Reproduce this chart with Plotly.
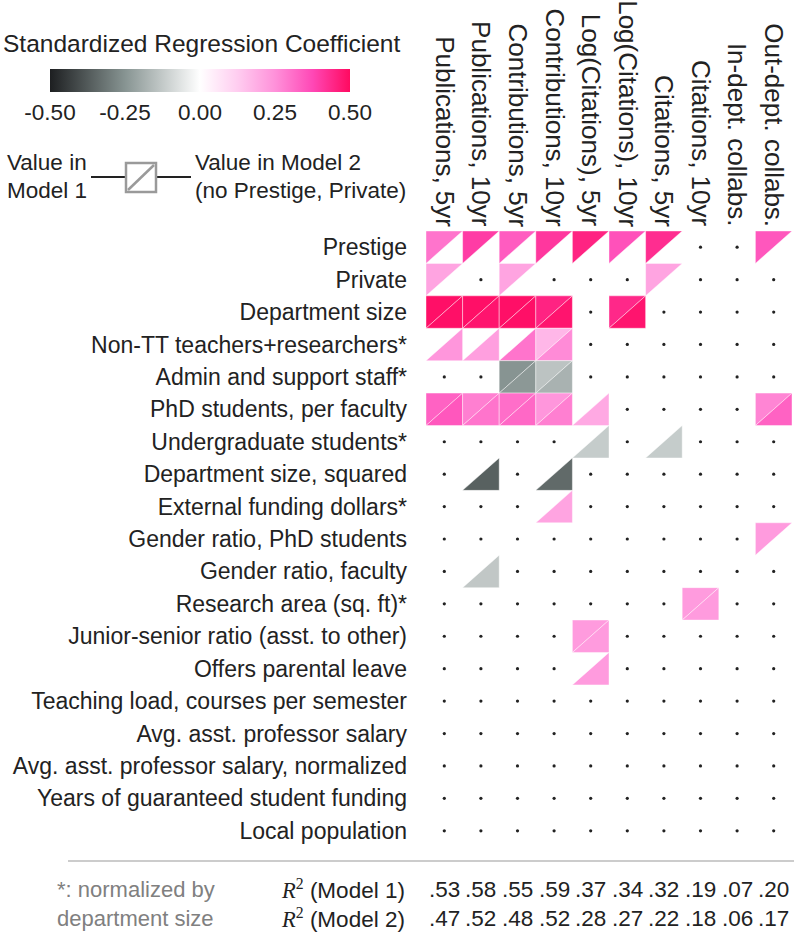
import plotly.graph_objects as go
from plotly.colors import sample_colorscale

columns = ["Publications, 5yr", "Publications, 10yr", "Contributions, 5yr", "Contributions, 10yr",
           "Log(Citations), 5yr", "Log(Citations), 10yr", "Citations, 5yr", "Citations, 10yr",
           "In-dept. collabs.", "Out-dept. collabs."]

rows = ["Prestige", "Private", "Department size", "Non-TT teachers+researchers*",
        "Admin and support staff*", "PhD students, per faculty", "Undergraduate students*",
        "Department size, squared", "External funding dollars*", "Gender ratio, PhD students",
        "Gender ratio, faculty", "Research area (sq. ft)*", "Junior-senior ratio (asst. to other)",
        "Offers parental leave", "Teaching load, courses per semester", "Avg. asst. professor salary",
        "Avg. asst. professor salary, normalized", "Years of guaranteed student funding",
        "Local population"]

N = None
# Model 1 coefficients (upper-left triangle); None = not significant
model1 = [
    [0.30, 0.40, 0.34, 0.41, 0.45, 0.36, 0.43, N, N, 0.35],
    [0.21, N, 0.21, N, N, N, 0.21, N, N, N],
    [0.49, 0.49, 0.49, 0.45, N, 0.44, N, N, N, N],
    [N, N, N, 0.17, N, N, N, N, N, N],
    [N, N, -0.25, -0.14, N, N, N, N, N, N],
    [0.33, 0.28, 0.31, 0.24, N, N, N, N, N, 0.27],
    [N, N, N, N, N, N, N, N, N, N],
    [N, N, N, N, N, N, N, N, N, N],
    [N, N, N, N, N, N, N, N, N, N],
    [N, N, N, N, N, N, N, N, N, 0.23],
    [N, N, N, N, N, N, N, N, N, N],
    [N, N, N, N, N, N, N, 0.23, N, N],
    [N, N, N, N, 0.23, N, N, N, N, N],
    [N, N, N, N, N, N, N, N, N, N],
    [N, N, N, N, N, N, N, N, N, N],
    [N, N, N, N, N, N, N, N, N, N],
    [N, N, N, N, N, N, N, N, N, N],
    [N, N, N, N, N, N, N, N, N, N],
    [N, N, N, N, N, N, N, N, N, N],
]
# Model 2 coefficients (lower-right triangle; no Prestige, Private)
model2 = [
    [N, N, N, N, N, N, N, N, N, N],
    [N, N, N, N, N, N, N, N, N, N],
    [0.49, 0.48, 0.49, 0.48, N, 0.48, N, N, N, N],
    [0.24, 0.22, 0.30, 0.26, N, N, N, N, N, N],
    [N, N, -0.24, -0.18, N, N, N, N, N, N],
    [0.35, 0.30, 0.32, 0.28, 0.20, N, N, N, N, 0.33],
    [N, N, N, N, -0.12, N, -0.12, N, N, N],
    [N, -0.36, N, -0.34, N, N, N, N, N, N],
    [N, N, N, 0.21, N, N, N, N, N, N],
    [N, N, N, N, N, N, N, N, N, N],
    [N, -0.13, N, N, N, N, N, N, N, N],
    [N, N, N, N, N, N, N, 0.23, N, N],
    [N, N, N, N, 0.23, N, N, N, N, N],
    [N, N, N, N, 0.23, N, N, N, N, N],
    [N, N, N, N, N, N, N, N, N, N],
    [N, N, N, N, N, N, N, N, N, N],
    [N, N, N, N, N, N, N, N, N, N],
    [N, N, N, N, N, N, N, N, N, N],
    [N, N, N, N, N, N, N, N, N, N],
]

r2_model1 = [".53", ".58", ".55", ".59", ".37", ".34", ".32", ".19", ".07", ".20"]
r2_model2 = [".47", ".52", ".48", ".52", ".28", ".27", ".22", ".18", ".06", ".17"]

colorscale = [
    [0.0, "rgb(29,31,33)"],
    [0.25, "rgb(135,148,146)"],
    [0.5, "rgb(255,255,255)"],
    [0.625, "rgb(255,205,240)"],
    [0.75, "rgb(255,145,218)"],
    [0.875, "rgb(255,72,182)"],
    [1.0, "rgb(255,10,96)"],
]
VMIN, VMAX = -0.5, 0.5

def col_of(v):
    t = (v - VMIN) / (VMAX - VMIN)
    t = min(max(t, 0), 1)
    return sample_colorscale(colorscale, [t])[0]

FONT = "Liberation Sans, Arial, sans-serif"
INK = "#222222"
W, H = 796, 932
L, R, T, B = 426, 792, 231, 847

def px(xp):
    return (xp - L) / (R - L)

def py(yp):
    return (B - yp) / (B - T)

fig = go.Figure()

edge = dict(color="rgba(255,255,255,0.6)", width=0.7)
dot_x, dot_y = [], []
for i in range(len(rows)):
    for j in range(len(columns)):
        v1 = model1[i][j]
        v2 = model2[i][j]
        if v1 is None and v2 is None:
            dot_x.append(j)
            dot_y.append(i)
            continue
        if v1 is not None:
            fig.add_trace(go.Scatter(
                x=[j - 0.5, j + 0.5, j - 0.5, j - 0.5],
                y=[i - 0.5, i - 0.5, i + 0.5, i - 0.5],
                mode="lines", fill="toself", fillcolor=col_of(v1), line=edge,
                hoverinfo="skip", showlegend=False))
        if v2 is not None:
            fig.add_trace(go.Scatter(
                x=[j + 0.5, j + 0.5, j - 0.5, j + 0.5],
                y=[i - 0.5, i + 0.5, i + 0.5, i - 0.5],
                mode="lines", fill="toself", fillcolor=col_of(v2), line=edge,
                hoverinfo="skip", showlegend=False))

fig.add_trace(go.Scatter(
    x=dot_x, y=dot_y, mode="markers",
    marker=dict(size=3.2, color=INK),
    hoverinfo="skip", showlegend=False))

# colorbar carrier
fig.add_trace(go.Scatter(
    x=[0, 0], y=[0, 0], mode="markers",
    marker=dict(size=0.1, opacity=0, color=[VMIN, VMAX], colorscale=colorscale,
                cmin=VMIN, cmax=VMAX, showscale=True,
                colorbar=dict(orientation="h", x=px(200), xanchor="center",
                              y=py(69), yanchor="top", ypad=0, xpad=0,
                              len=300, lenmode="pixels", thickness=23,
                              outlinewidth=0, ticks="",
                              tickvals=[-0.5, -0.25, 0, 0.25, 0.5],
                              ticktext=["-0.50", "-0.25", "0.00", "0.25", "0.50"],
                              tickfont=dict(family=FONT, size=22.5, color=INK))),
    hoverinfo="skip", showlegend=False))

fig.update_xaxes(range=[-0.5, len(columns) - 0.5], side="top",
                 showticklabels=False,
                 showgrid=False, zeroline=False, showline=False, ticks="")
fig.update_yaxes(range=[len(rows) - 0.5, -0.5],
                 tickvals=list(range(len(rows))), ticktext=rows,
                 tickfont=dict(family=FONT, size=23, color=INK),
                 ticklabelstandoff=18,
                 showgrid=False, zeroline=False, showline=False, ticks="")

def text_ann(text, xp, yp, size, color=INK, xanchor="left"):
    return dict(text=text, x=px(xp), y=py(yp), xref="paper", yref="paper",
                xanchor=xanchor, yanchor="middle", showarrow=False, align="left",
                font=dict(family=FONT, size=size, color=color))

ann = []
# column headers (rotated), bottom-aligned just above the grid
for j, c in enumerate(columns):
    ann.append(dict(text=c, x=j, y=py(229), xref="x", yref="paper", textangle=90,
                    xanchor="center", yanchor="bottom", showarrow=False,
                    font=dict(family=FONT, size=26, color=INK)))

ann.append(text_ann("Standardized Regression Coefficient", 201, 44, 24.5, xanchor="center"))
ann.append(text_ann("Value in", 5, 163, 22.5))
ann.append(text_ann("Model 1", 5, 190, 22.5))
ann.append(text_ann("Value in Model 2", 193, 163, 22.5))
ann.append(text_ann("(no Prestige, Private)", 193, 190, 22.5))
ann.append(text_ann("*: normalized by", 55, 889, 22, color="#808080"))
ann.append(text_ann("department size", 55, 918, 22, color="#808080"))
RS = "<span style='font-family:Liberation Serif, serif'><i>R</i><sup>2</sup></span>"
ann.append(text_ann(RS + " (Model 1)", 407, 889, 22.5, xanchor="right"))
ann.append(text_ann(RS + " (Model 2)", 407, 918, 22.5, xanchor="right"))
for j in range(len(columns)):
    ann.append(dict(text=r2_model1[j], x=j, y=py(889), xref="x", yref="paper",
                    xanchor="center", yanchor="middle", showarrow=False,
                    font=dict(family=FONT, size=22.5, color=INK)))
    ann.append(dict(text=r2_model2[j], x=j, y=py(918), xref="x", yref="paper",
                    xanchor="center", yanchor="middle", showarrow=False,
                    font=dict(family=FONT, size=22.5, color=INK)))

shapes = [
    dict(type="line", xref="paper", yref="paper", x0=px(91), x1=px(126), y0=py(177), y1=py(177),
         line=dict(color=INK, width=2)),
    dict(type="line", xref="paper", yref="paper", x0=px(156), x1=px(191), y0=py(177), y1=py(177),
         line=dict(color=INK, width=2)),
    dict(type="rect", xref="paper", yref="paper", x0=px(126), x1=px(156), y0=py(192), y1=py(163),
         line=dict(color="#9a9a9a", width=2.5), fillcolor="white"),
    dict(type="line", xref="paper", yref="paper", x0=px(128), x1=px(154), y0=py(190), y1=py(165),
         line=dict(color="#9a9a9a", width=2.5)),
    dict(type="line", xref="paper", yref="paper", x0=px(68), x1=px(794), y0=py(861), y1=py(861),
         line=dict(color="#9a9a9a", width=1.2)),
]

fig.update_layout(
    width=W, height=H,
    margin=dict(l=L, r=W - R, t=T, b=H - B, pad=0),
    plot_bgcolor="white", paper_bgcolor="white",
    annotations=ann, shapes=shapes,
    font=dict(family=FONT),
)

fig.write_html("out.html", config={"displayModeBar": False},
               post_script="document.body.style.margin='0';")
